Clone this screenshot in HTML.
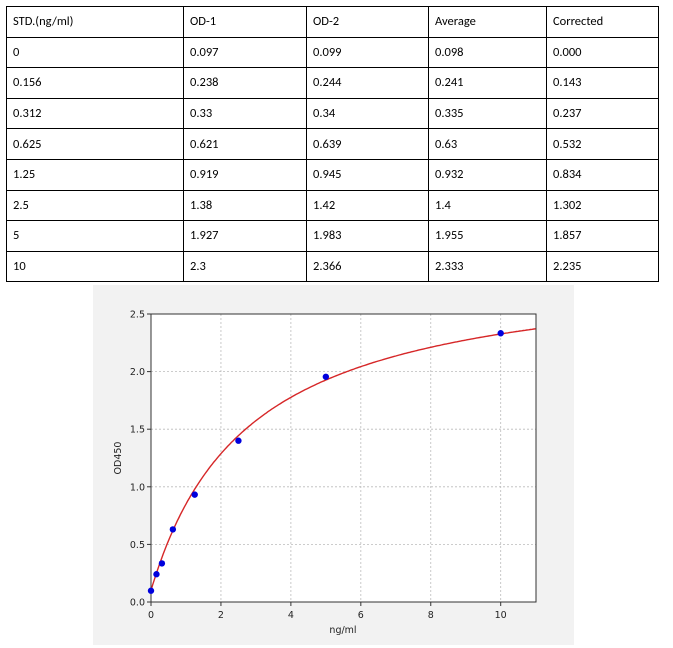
<!DOCTYPE html>
<html><head><meta charset="utf-8"><style>
body{margin:0;width:673px;height:648px;background:#fff;position:relative;font-family:"Liberation Sans",sans-serif;}
table{position:absolute;left:6px;top:6px;border-collapse:collapse;font-family:"Carlito","Liberation Sans",sans-serif;font-size:12.5px;color:#000;}
td{border:1px solid #000;height:30.6px;padding:0 0 0 6px;box-sizing:border-box;}
</style></head><body>
<table>
<tr><td style="width:177px">STD.(ng/ml)</td><td style="width:123px">OD-1</td><td style="width:122px">OD-2</td><td style="width:118px">Average</td><td style="width:112px">Corrected</td></tr>
<tr><td>0</td><td>0.097</td><td>0.099</td><td>0.098</td><td>0.000</td></tr>
<tr><td>0.156</td><td>0.238</td><td>0.244</td><td>0.241</td><td>0.143</td></tr>
<tr><td>0.312</td><td>0.33</td><td>0.34</td><td>0.335</td><td>0.237</td></tr>
<tr><td>0.625</td><td>0.621</td><td>0.639</td><td>0.63</td><td>0.532</td></tr>
<tr><td>1.25</td><td>0.919</td><td>0.945</td><td>0.932</td><td>0.834</td></tr>
<tr><td>2.5</td><td>1.38</td><td>1.42</td><td>1.4</td><td>1.302</td></tr>
<tr><td>5</td><td>1.927</td><td>1.983</td><td>1.955</td><td>1.857</td></tr>
<tr><td>10</td><td>2.3</td><td>2.366</td><td>2.333</td><td>2.235</td></tr>
</table>
<svg id="s" width="673" height="648" style="position:absolute;left:0;top:0" font-family="DejaVu Sans, sans-serif" font-size="9.5" fill="#222">
<rect x="93" y="285" width="481" height="360" fill="#f2f2f2"/>
<rect x="151" y="314" width="385" height="288" fill="#fff"/>
<g id="g" stroke="#bbb" stroke-dasharray="2,2" stroke-width="0.8"></g>
<rect x="151" y="314" width="385" height="288" fill="none" stroke="#333" stroke-width="1"/>
<g id="t"></g>
<path id="c" fill="none" stroke="#d62728" stroke-width="1.4"/>
<g id="p" fill="#0000dd"></g>
<text x="343" y="633" text-anchor="middle">ng/ml</text>
<text transform="translate(121,458) rotate(-90)" text-anchor="middle">OD450</text>
</svg>
<script>
var X=x=>151+x*34.97,Y=y=>602-y*115.2,g=document.getElementById('g'),t=document.getElementById('t'),h='',tt='';
for(var i=2;i<=10;i+=2){h+=`<line x1="${X(i)}" y1="314" x2="${X(i)}" y2="602"/>`;}
for(var i=0;i<=10;i+=2){tt+=`<line x1="${X(i)}" y1="602" x2="${X(i)}" y2="606" stroke="#333"/><text x="${X(i)}" y="618" text-anchor="middle">${i}</text>`;}
for(var j=0;j<=5;j++){var v=j*0.5;if(j>0&&j<5)h+=`<line x1="151" y1="${Y(v)}" x2="536" y2="${Y(v)}"/>`;tt+=`<line x1="147" y1="${Y(v)}" x2="151" y2="${Y(v)}" stroke="#333"/><text x="145" y="${Y(v)+3.5}" text-anchor="end">${v.toFixed(1)}</text>`;}
g.innerHTML=h;t.innerHTML=tt;
var f=x=>2.95+(0.1-2.95)/(1+Math.pow(x/2.8,1.0)),d='';
for(var x=0;x<=11.001;x+=0.05){d+=(x?'L':'M')+X(x).toFixed(1)+','+Y(f(x)).toFixed(1);}
document.getElementById('c').setAttribute('d',d);
var pts=[[0,0.098],[0.156,0.241],[0.312,0.335],[0.625,0.63],[1.25,0.932],[2.5,1.4],[5,1.955],[10,2.333]],p='';
pts.forEach(q=>p+=`<circle cx="${X(q[0])}" cy="${Y(q[1])}" r="3.2"/>`);
document.getElementById('p').innerHTML=p;
</script>
</body></html>
